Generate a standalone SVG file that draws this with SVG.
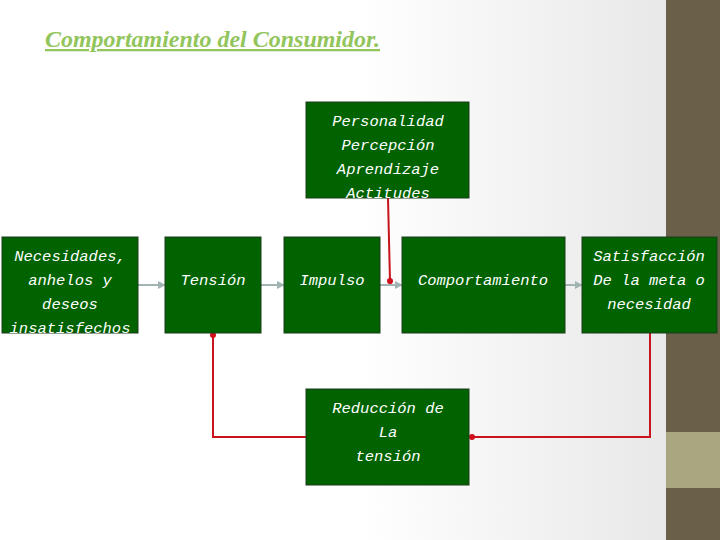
<svg xmlns="http://www.w3.org/2000/svg" width="720" height="540" viewBox="0 0 720 540">
  <defs>
    <linearGradient id="bg" x1="0" y1="0" x2="1" y2="0">
      <stop offset="0" stop-color="#ffffff"/>
      <stop offset="0.5" stop-color="#ffffff"/>
      <stop offset="1" stop-color="#e4e4e4"/>
    </linearGradient>
    <marker id="ga" viewBox="0 0 10 10" refX="9" refY="5" markerWidth="4" markerHeight="4" orient="auto">
      <path d="M0,0 L10,5 L0,10 z" fill="#a2b3b4"/>
    </marker>
    <marker id="rd" viewBox="0 0 10 10" refX="5" refY="5" markerWidth="3" markerHeight="3" orient="auto">
      <circle cx="5" cy="5" r="5" fill="#d0101a"/>
    </marker>
    <style>
      .box { fill: #006300; stroke: #1c3c1c; stroke-width: 1; }
      .t { font-family: "Liberation Mono", monospace; font-style: italic; font-size: 15.5px; fill: #ffffff; text-anchor: middle; }
      .g { stroke: #a2b3b4; stroke-width: 2; fill: none; marker-end: url(#ga); }
      .r { stroke: #c8141e; stroke-width: 2; fill: none; marker-end: url(#rd); }
    </style>
  </defs>
  <rect x="0" y="0" width="720" height="540" fill="url(#bg)"/>
  <rect x="666" y="0" width="54" height="540" fill="#6a604a"/>
  <rect x="666" y="432" width="54" height="56" fill="#a9a680"/>

  <text x="45" y="47" font-family="Liberation Serif, serif" font-style="italic" font-weight="bold" font-size="23" fill="#92c55c" text-decoration="underline" textLength="335" lengthAdjust="spacingAndGlyphs">Comportamiento del Consumidor.</text>

  <g id="connectors">
    <line class="g" x1="138" y1="285" x2="165" y2="285"/>
    <line class="g" x1="261" y1="285" x2="284" y2="285"/>
    <line class="g" x1="380" y1="285" x2="402" y2="285"/>
    <line class="g" x1="565" y1="285" x2="582" y2="285"/>
    <polyline class="r" points="388,198 389,240 390,281"/>
    <polyline class="r" points="650,333 650,437 472,437"/>
    <polyline class="r" points="306,437 213,437 213,335"/>
  </g>

  <g id="personalidad">
    <rect class="box" x="306" y="102" width="163" height="96"/>
    <text class="t" x="388" y="126">Personalidad</text>
    <text class="t" x="388" y="150">Percepción</text>
    <text class="t" x="388" y="174">Aprendizaje</text>
    <text class="t" x="388" y="198">Actitudes</text>
  </g>
  <g id="necesidades">
    <rect class="box" x="2" y="237" width="136" height="96"/>
    <text class="t" x="70" y="261">Necesidades,</text>
    <text class="t" x="70" y="285">anhelos y</text>
    <text class="t" x="70" y="309">deseos</text>
    <text class="t" x="70" y="333">insatisfechos</text>
  </g>
  <g id="tension">
    <rect class="box" x="165" y="237" width="96" height="96"/>
    <text class="t" x="213" y="285">Tensión</text>
  </g>
  <g id="impulso">
    <rect class="box" x="284" y="237" width="96" height="96"/>
    <text class="t" x="332" y="285">Impulso</text>
  </g>
  <g id="comportamiento">
    <rect class="box" x="402" y="237" width="163" height="96"/>
    <text class="t" x="483" y="285">Comportamiento</text>
  </g>
  <g id="satisfaccion">
    <rect class="box" x="582" y="237" width="135" height="96"/>
    <text class="t" x="649" y="261">Satisfacción</text>
    <text class="t" x="649" y="285">De la meta o</text>
    <text class="t" x="649" y="309">necesidad</text>
  </g>
  <g id="reduccion">
    <rect class="box" x="306" y="389" width="163" height="96"/>
    <text class="t" x="388" y="413">Reducción de</text>
    <text class="t" x="388" y="437">La</text>
    <text class="t" x="388" y="461">tensión</text>
  </g>
</svg>
